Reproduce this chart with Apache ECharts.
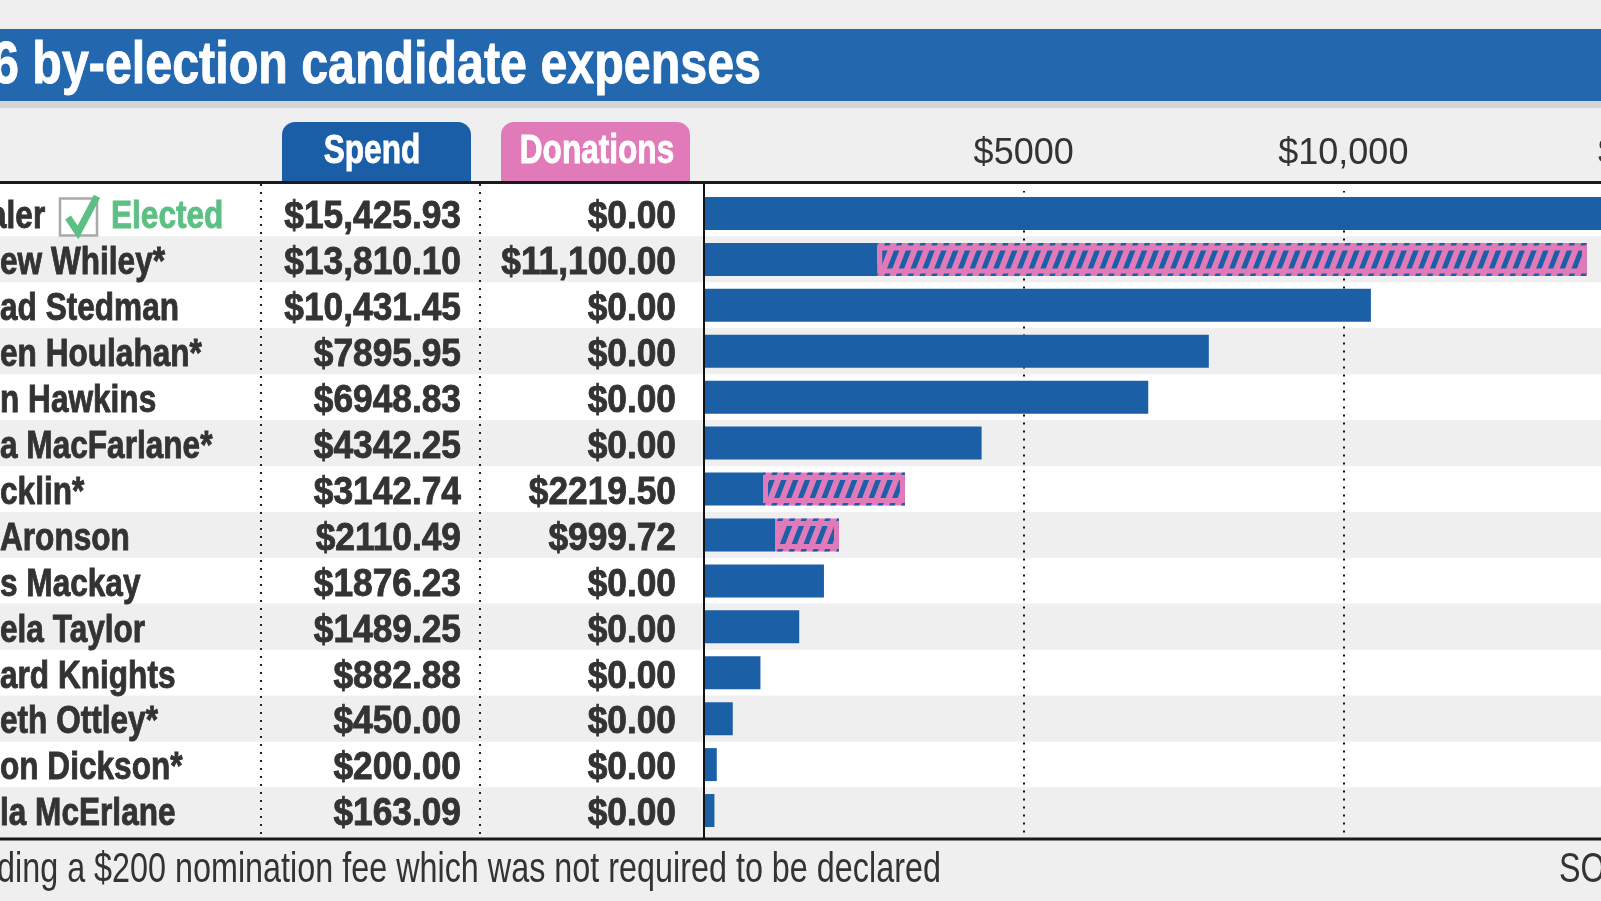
<!DOCTYPE html>
<html>
<head>
<meta charset="utf-8">
<script src="https://cdn.jsdelivr.net/npm/echarts@6/dist/echarts.min.js"></script>
<style>
html, body { margin: 0; padding: 0; background: #efefef; }
#chart { width: 1601px; height: 901px; }
</style>
</head>
<body>
<div id="chart"></div>
<script>
// candidates (left edge of the table is cut off in the original)
var names = ['aler', 'ew Whiley*', 'ad Stedman', 'en Houlahan*', 'n Hawkins', 'a MacFarlane*', 'cklin*',
  'Aronson', 's Mackay', 'ela Taylor', 'ard Knights', 'eth Ottley*', 'on Dickson*', 'la McErlane'];
var spend = [15425.93, 13810.10, 10431.45, 7895.95, 6948.83, 4342.25, 3142.74,
  2110.49, 1876.23, 1489.25, 882.88, 450.00, 200.00, 163.09];
var donations = [0, 11100.00, 0, 0, 0, 0, 2219.50, 999.72, 0, 0, 0, 0, 0, 0];
var electedIndex = 0;
var tickStep = 5000;
var axisMax = 15000;

var FONT = '"Liberation Sans", Arial, sans-serif';
var BLUE = '#1b5fa7';
var PINK = '#e07ab8';
var GREEN = '#5cc084';
var TEXT = '#333333';

function money(v, dec) {
  var s = v.toFixed(dec);
  var parts = s.split('.');
  var n = parts[0];
  if (n.length > 4) n = n.replace(/\B(?=(\d{3})+(?!\d))/g, ',');
  return '$' + n + (parts.length > 1 ? '.' + parts[1] : '');
}

var solid = spend.map(function (v, i) { return +(v - donations[i]).toFixed(2); });
var donBar = donations.map(function (v) { return v > 0 ? v : '-'; });

var chart = echarts.init(document.getElementById('chart'));

var option = {
  backgroundColor: '#efefef',
  animation: false,
  grid: [
    { left: 0, right: 0, top: 190.5, height: 643, outerBoundsMode: 'none' },
    { left: 704, right: -62, top: 190.5, height: 643, outerBoundsMode: 'none' }
  ],
  xAxis: [
    { gridIndex: 0, type: 'value', show: false },
    {
      gridIndex: 1, type: 'value', position: 'top',
      min: 0, max: axisMax, interval: tickStep,
      axisLine: { show: false },
      axisTick: { show: false },
      axisLabel: {
        margin: 18, fontFamily: FONT, fontSize: 36, color: TEXT,
        formatter: function (v) { return v === 0 ? '' : money(v, 0); }
      },
      splitLine: {
        show: true, showMinLine: false,
        lineStyle: { color: '#111', width: 2, type: [2, 6] }
      }
    }
  ],
  yAxis: [
    {
      // row bands across the whole table
      gridIndex: 0, type: 'category', inverse: true, data: names,
      axisLine: { show: false }, axisTick: { show: false },
      axisLabel: { show: false, interval: 0 },
      splitArea: { show: true, interval: 0, areaStyle: { color: ['#ffffff', '#efefef'] } }
    },
    {
      gridIndex: 1, type: 'category', inverse: true, data: names,
      axisLine: { show: true, lineStyle: { color: '#111', width: 2 } },
      axisTick: { show: false }, axisLabel: { show: false }
    },
    {
      gridIndex: 1, type: 'category', inverse: true, data: names, show: false
    }
  ],
  series: [
    {
      name: 'Spend', type: 'bar', xAxisIndex: 1, yAxisIndex: 1, stack: 'spend',
      barWidth: 33, data: solid, itemStyle: { color: BLUE }
    },
    {
      name: 'Donations', type: 'bar', xAxisIndex: 1, yAxisIndex: 1, stack: 'spend',
      barWidth: 33, data: donBar,
      itemStyle: {
        color: PINK,
        decal: {
          symbol: 'rect', symbolSize: 1,
          dashArrayX: [1, 0], dashArrayY: [5, 5.5],
          rotation: -1.2, color: BLUE
        }
      }
    },
    {
      name: 'base', type: 'bar', xAxisIndex: 1, yAxisIndex: 2, stack: 'frame',
      barWidth: 28, data: solid, silent: true,
      itemStyle: { color: 'transparent' }
    },
    {
      name: 'frame', type: 'bar', xAxisIndex: 1, yAxisIndex: 2, stack: 'frame',
      barWidth: 28, data: donBar, silent: true,
      itemStyle: { color: 'none', borderColor: PINK, borderWidth: 5 }
    }
  ]
};

chart.setOption(option);

// condensed text: Liberation Sans squeezed horizontally, bold ones thickened a little
function txt(x, y, s, font, sx, align, fill, heavy) {
  var st = { text: s, fill: fill || TEXT, font: font, textAlign: align || 'left', textVerticalAlign: 'middle' };
  if (heavy) { st.stroke = fill || TEXT; st.lineWidth = 0.9; }
  return { type: 'text', z: 60, x: x, y: y, scaleX: sx, style: st };
}

var BOLD = 'bold 39px ' + FONT;
var graphics = [
  // title band
  { type: 'rect', z: 0, shape: { x: 0, y: 101, width: 1601, height: 7 }, style: { fill: '#d4d4d4' } },
  { type: 'rect', z: 1, shape: { x: 0, y: 29, width: 1601, height: 72 }, style: { fill: '#2367ae' } },
  txt(-8, 67, '6 by-election candidate expenses', 'bold 59px ' + FONT, 0.82, 'left', '#fff', true),
  // column tabs
  { type: 'rect', z: 1, shape: { x: 282, y: 122, width: 189, height: 62, r: [13, 13, 0, 0] }, style: { fill: '#1a5ea8' } },
  { type: 'rect', z: 1, shape: { x: 501, y: 122, width: 189, height: 62, r: [13, 13, 0, 0] }, style: { fill: PINK } },
  txt(372, 152, 'Spend', 'bold 40px ' + FONT, 0.79, 'center', '#fff', true),
  txt(597, 152, 'Donations', 'bold 40px ' + FONT, 0.79, 'center', '#fff', true),
  // table frame
  { type: 'rect', z: 0, shape: { x: 0, y: 182, width: 1601, height: 9 }, style: { fill: '#fff' } },
  { type: 'line', z: 50, shape: { x1: 0, y1: 182.5, x2: 1601, y2: 182.5 }, style: { stroke: '#1a1a1a', lineWidth: 3 } },
  { type: 'line', z: 50, shape: { x1: 0, y1: 839, x2: 1601, y2: 839 }, style: { stroke: '#1a1a1a', lineWidth: 3 } },
  { type: 'line', z: 50, shape: { x1: 261, y1: 184, x2: 261, y2: 838 }, style: { stroke: '#222', lineWidth: 2, lineDash: [2, 6] } },
  { type: 'line', z: 50, shape: { x1: 480, y1: 184, x2: 480, y2: 838 }, style: { stroke: '#222', lineWidth: 2, lineDash: [2, 6] } },
  { type: 'line', z: 50, shape: { x1: 704, y1: 184, x2: 704, y2: 838 }, style: { stroke: '#111', lineWidth: 2 } },
  // footnote
  txt(-3, 870, 'ding a $200 nomination fee which was not required to be declared', '42px ' + FONT, 0.77, 'left'),
  txt(1559, 870, 'SOU', '42px ' + FONT, 0.77, 'left')
];

// table columns, placed on the bar chart's category rows
names.forEach(function (n, i) {
  var y = chart.convertToPixel({ yAxisIndex: 1 }, i);
  var nameX = 0;
  if (i === electedIndex) {
    nameX = -11;
    graphics.push({ type: 'rect', z: 60, shape: { x: 60, y: y - 15, width: 37, height: 37 },
      style: { fill: '#fff', stroke: '#a9a9a9', lineWidth: 2.5 } });
    graphics.push({ type: 'polyline', z: 61, shape: { points: [[68, y + 4], [78, y + 19], [97, y - 17]] },
      style: { stroke: GREEN, lineWidth: 7, fill: null, lineJoin: 'miter' } });
    graphics.push(txt(111, y + 4, 'Elected', BOLD, 0.81, 'left', GREEN, true));
  }
  graphics.push(txt(nameX, y + 4, n, BOLD, 0.81, 'left', TEXT, true));
  graphics.push(txt(461, y + 4, money(spend[i], 2), BOLD, 0.905, 'right', TEXT, true));
  graphics.push(txt(676, y + 4, money(donations[i], 2), BOLD, 0.905, 'right', TEXT, true));
});

chart.setOption({ graphic: graphics });
</script>
</body>
</html>
